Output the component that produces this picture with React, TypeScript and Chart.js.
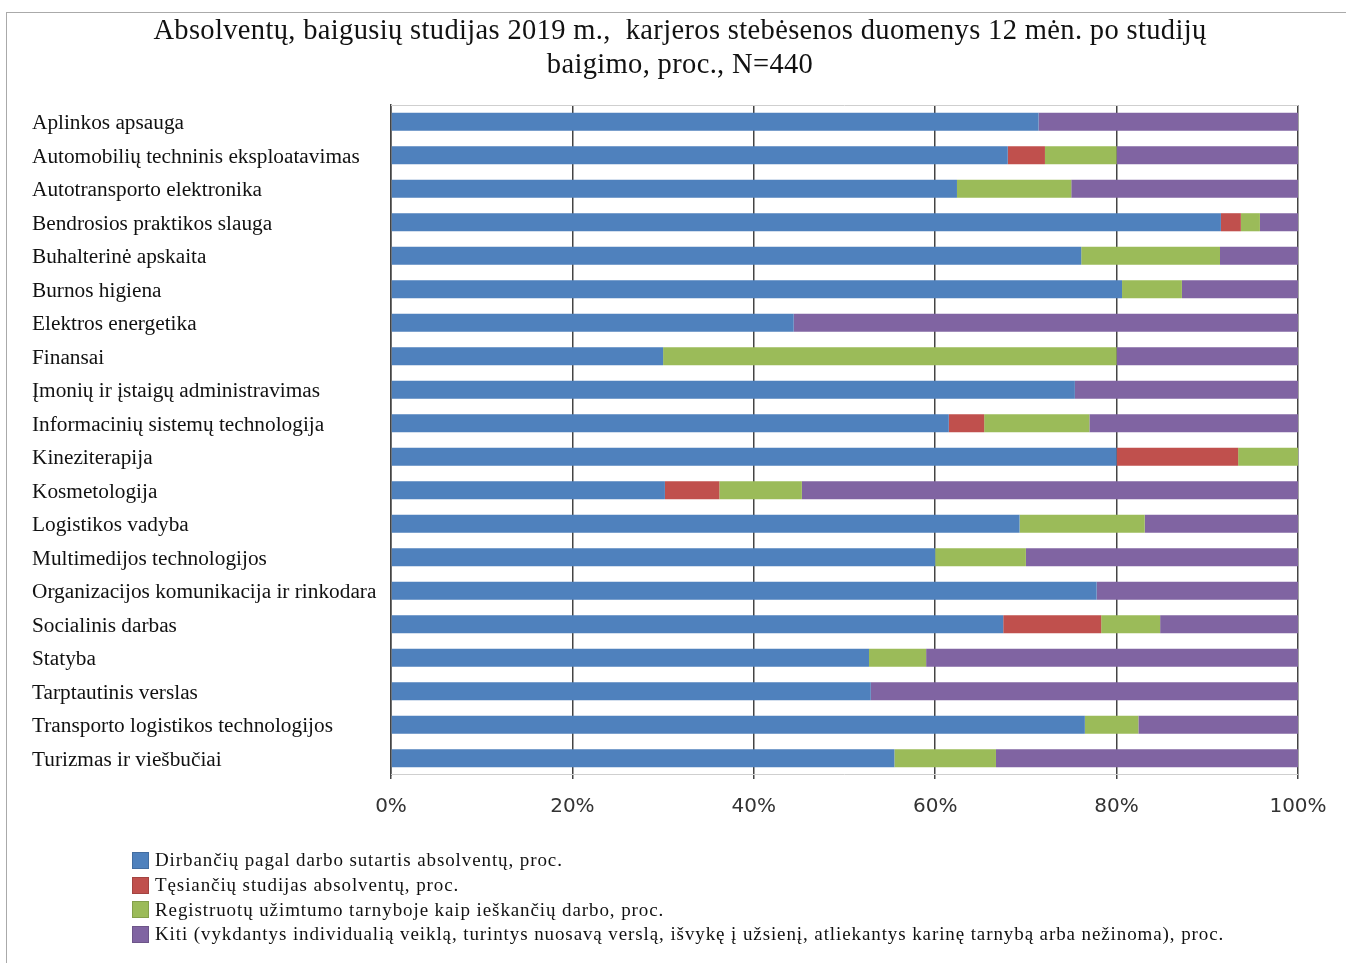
import React, { useEffect, useRef } from "react";
import { Chart, registerables } from "chart.js";

Chart.register(...registerables);

const categories = [
  "Aplinkos apsauga",
  "Automobilių techninis eksploatavimas",
  "Autotransporto elektronika",
  "Bendrosios praktikos slauga",
  "Buhalterinė apskaita",
  "Burnos higiena",
  "Elektros energetika",
  "Finansai",
  "Įmonių ir įstaigų administravimas",
  "Informacinių sistemų technologija",
  "Kineziterapija",
  "Kosmetologija",
  "Logistikos vadyba",
  "Multimedijos technologijos",
  "Organizacijos komunikacija ir rinkodara",
  "Socialinis darbas",
  "Statyba",
  "Tarptautinis verslas",
  "Transporto logistikos technologijos",
  "Turizmas ir viešbučiai",
];

const working = [71.4, 68.0, 62.4, 91.5, 76.1, 80.6, 44.4, 30.0, 75.4, 61.5, 80.0, 30.2, 69.3, 60.0, 77.8, 67.5, 52.7, 52.9, 76.5, 55.5];
const studying = [0, 4.1, 0, 2.2, 0, 0, 0, 0, 0, 3.9, 13.4, 6.0, 0, 0, 0, 10.8, 0, 0, 0, 0];
const registered = [0, 7.9, 12.6, 2.1, 15.3, 6.6, 0, 50.0, 0, 11.6, 6.6, 9.1, 13.8, 10.0, 0, 6.5, 6.3, 0, 5.9, 11.2];
const others = [28.6, 20.0, 25.0, 4.2, 8.6, 12.8, 55.6, 20.0, 24.6, 23.0, 0, 54.7, 16.9, 30.0, 22.2, 15.2, 41.0, 47.1, 17.6, 33.3];

const seriesLabels = [
  "Dirbančių pagal darbo sutartis absolventų, proc.",
  "Tęsiančių studijas absolventų, proc.",
  "Registruotų užimtumo tarnyboje kaip ieškančių darbo, proc.",
  "Kiti (vykdantys individualią veiklą, turintys nuosavą verslą, išvykę į užsienį, atliekantys karinę tarnybą arba nežinoma), proc.",
];
const seriesColors = ["#4F81BD", "#C0504D", "#9BBB59", "#8064A2"];
const xTicks = ["0%", "20%", "40%", "60%", "80%", "100%"];
const titleLines = [
  "Absolventų, baigusių studijas 2019 m.,  karjeros stebėsenos duomenys 12 mėn. po studijų",
  "baigimo, proc., N=440",
];

const SERIF = "'Liberation Serif', 'Times New Roman', serif";

export default function App() {
  const ref = useRef<HTMLCanvasElement | null>(null);

  useEffect(() => {
    if (!ref.current) return;
    const values = [working, studying, registered, others];
    const chart = new Chart(ref.current, {
      type: "bar",
      data: {
        labels: categories,
        datasets: values.map((v, i) => ({
          label: seriesLabels[i],
          data: v,
          backgroundColor: seriesColors[i],
          borderWidth: 0,
          barPercentage: 0.54,
          categoryPercentage: 1,
        })),
      },
      options: {
        indexAxis: "y",
        animation: false,
        responsive: false,
        devicePixelRatio: 1,
        layout: { padding: { top: 105, left: 32, right: 48, bottom: 137 } },
        plugins: {
          legend: { display: false },
          tooltip: { enabled: false },
          title: { display: false },
        },
        scales: {
          x: {
            stacked: true,
            min: 0,
            max: 100,
            afterFit: (s: any) => {
              s.height = 51;
            },
            ticks: {
              stepSize: 20,
              padding: 16,
              color: "#333",
              font: { family: "'DejaVu Sans', sans-serif", size: 20 },
              callback: (_v: any, i: number) => xTicks[i],
            },
            grid: { color: "#444", lineWidth: 1.5, tickLength: 4 },
            border: { display: false },
          },
          y: {
            stacked: true,
            afterFit: (s: any) => {
              s.width = 359;
            },
            ticks: {
              crossAlign: "far",
              color: "#111",
              font: { family: SERIF, size: 21.3 },
              padding: 6,
              labelOffset: 2,
              autoSkip: false,
            },
            grid: { display: false },
            border: { display: true, color: "#444", width: 1.5 },
          },
        },
      },
      plugins: [
        {
          id: "topline",
          afterDraw(c: any) {
            const { ctx, chartArea } = c;
            ctx.save();
            ctx.strokeStyle = "#cfcfcf";
            ctx.lineWidth = 1;
            ctx.beginPath();
            ctx.moveTo(chartArea.left, chartArea.top + 0.5);
            ctx.lineTo(chartArea.right, chartArea.top + 0.5);
            ctx.moveTo(chartArea.left, chartArea.bottom - 0.5);
            ctx.lineTo(chartArea.right, chartArea.bottom - 0.5);
            ctx.stroke();
            ctx.restore();
          },
        },
      ],
    });
    return () => chart.destroy();
  }, []);

  return (
    <div
      style={{
        position: "absolute",
        left: 0,
        top: 0,
        width: 1346,
        height: 963,
        overflow: "hidden",
        background: "#fff",
      }}
    >
      <div
        style={{
          position: "absolute",
          left: 6,
          top: 12,
          width: 1400,
          height: 1000,
          borderTop: "1px solid #aaa",
          borderLeft: "1px solid #aaa",
        }}
      />
      <canvas ref={ref} width={1346} height={963} style={{ position: "absolute", left: 0, top: 0 }} />
      <div
        style={{
          position: "absolute",
          left: 80,
          width: 1200,
          top: 13,
          textAlign: "center",
          fontFamily: SERIF,
          fontSize: 28.5,
          lineHeight: "34px",
          letterSpacing: "0.35px",
          color: "#111",
          whiteSpace: "pre",
        }}
      >
        {titleLines.map((t, i) => (
          <div key={i}>{t}</div>
        ))}
      </div>
      <div style={{ position: "absolute", left: 132, top: 848 }}>
        {seriesLabels.map((l, i) => (
          <div
            key={i}
            style={{
              display: "flex",
              alignItems: "center",
              height: 24.7,
              fontFamily: SERIF,
              fontSize: 19,
              letterSpacing: "0.9px",
              color: "#111",
              whiteSpace: "nowrap",
            }}
          >
            <span
              style={{
                display: "inline-block",
                width: 17,
                height: 17,
                background: seriesColors[i],
                marginRight: 6,
                boxSizing: "border-box",
                border: "1px solid rgba(0,0,0,0.15)",
              }}
            />
            {l}
          </div>
        ))}
      </div>
    </div>
  );
}
